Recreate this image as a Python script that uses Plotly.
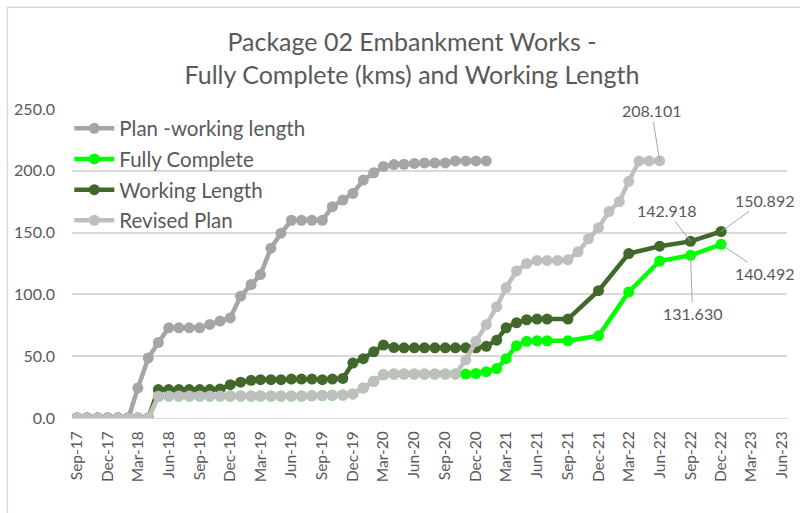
import plotly.graph_objects as go

# ---------------- data ----------------
months_rev = [
    "2017-09", "2017-10", "2017-11", "2017-12", "2018-01", "2018-02", "2018-03", "2018-04",
    "2018-05", "2018-06", "2018-07", "2018-08", "2018-09", "2018-10", "2018-11", "2018-12",
    "2019-01", "2019-02", "2019-03", "2019-04", "2019-05", "2019-06", "2019-07", "2019-08",
    "2019-09", "2019-10", "2019-11", "2019-12", "2020-01", "2020-02", "2020-03", "2020-04",
    "2020-05", "2020-06", "2020-07", "2020-08", "2020-09", "2020-10", "2020-11", "2020-12",
    "2021-01", "2021-02", "2021-03", "2021-04", "2021-05", "2021-06", "2021-07", "2021-08",
    "2021-09", "2021-10", "2021-11", "2021-12", "2022-01", "2022-02", "2022-03", "2022-04",
    "2022-05", "2022-06",
]
revised_plan = [
    0, 0, 0, 0, 0, 0, 0, 0,
    17.6, 17.8, 17.8, 17.8, 17.8, 17.8, 17.8, 17.8,
    17.8, 17.8, 17.8, 17.8, 17.8, 17.8, 17.8, 18.0,
    18.2, 18.4, 18.6, 19.5, 24.3, 29.7, 35.0, 35.5,
    35.5, 35.5, 35.5, 35.5, 35.5, 35.5, 47.0, 62.0,
    75.5, 90.0, 105.5, 119.0, 125.0, 127.5, 127.5, 127.5,
    128.0, 134.5, 145.0, 154.0, 167.0, 175.0, 191.5, 208.0,
    208.0, 208.101,
]

months_plan = months_rev[:41]
plan_working = [
    0, 0, 0, 0, 0, 0, 24.3, 48.6,
    61.0, 73.0, 73.0, 73.0, 73.0, 75.7, 78.4, 81.0,
    98.6, 108.0, 116.0, 137.4, 149.5, 160.0, 160.0, 160.0,
    160.0, 171.0, 176.3, 181.7, 192.5, 198.4, 203.5, 205.0,
    205.3, 206.0, 206.4, 206.4, 206.4, 208.0, 208.0, 208.0,
    208.0,
]

months_actual = months_rev[:47] + ["2021-09", "2021-12", "2022-03", "2022-06", "2022-09", "2022-12"]
fully_complete = revised_plan[:38] + [
    35.5, 36.0, 37.5, 40.0, 48.0, 58.5, 62.0, 62.5, 62.5,
    62.5, 66.5, 102.0, 127.0, 131.630, 140.492,
]
working_length = [
    0, 0, 0, 0, 0, 0, 0, 0,
    23.0, 23.0, 23.0, 23.0, 23.0, 23.0, 23.5, 27.0,
    29.0, 30.5, 31.0, 31.0, 31.0, 31.5, 31.5, 31.5,
    31.0, 31.5, 32.0, 44.5, 48.0, 53.5, 59.0, 57.0,
    56.8, 56.8, 56.8, 56.8, 56.8, 56.8, 56.8, 56.8,
    58.0, 63.0, 73.0, 77.0, 79.5, 80.0, 80.0,
    80.0, 103.0, 133.0, 139.0, 142.918, 150.892,
]

labels = [
    # (series key, index, dx, dy)
    ("rev", -1, -8, -50),
    ("wl", -2, -24, -31),
    ("wl", -1, 43, -31),
    ("fc", -1, 43, 29),
    ("fc", -2, 2, 58),
]

FONT = "Lato, 'Open Sans', sans-serif"
TXT = "#595959"

fig = go.Figure()

def add(name, x, y, color):
    fig.add_trace(go.Scatter(
        x=x, y=y, name=name, mode="lines+markers", legendgroup=name,
        line=dict(color=color, width=4.5),
        marker=dict(color=color, size=11),
    ))

add("Plan -working length", months_plan, plan_working, "#A5A5A5")
add("Fully Complete", months_actual, fully_complete, "#00FF00")
add("Working Length", months_actual, working_length, "#43682B")
add("Revised Plan", months_rev, revised_plan, "#BFBFBF")

series = {
    "rev": (months_rev, revised_plan),
    "wl": (months_actual, working_length),
    "fc": (months_actual, fully_complete),
}
for key, idx, dx, dy in labels:
    xs, ys = series[key]
    fig.add_annotation(
        x=xs[idx], y=ys[idx], text=f"{ys[idx]:.3f}",
        showarrow=True, arrowhead=0, arrowwidth=1, arrowcolor="#A6A6A6",
        ax=dx, ay=dy, font=dict(family=FONT, size=16, color=TXT),
    )

L, R, T, B = 71.7, 787.5, 108.5, 418.3
pw, ph = R - L, B - T
def px(xp):
    return (xp - L) / pw
def py(yp):
    return (B - yp) / ph

fig.add_shape(type="rect", xref="paper", yref="paper",
              x0=px(7), x1=px(810), y0=py(6.5), y1=py(530),
              line=dict(color="#D9D9D9", width=1.5), layer="below")

fig.update_layout(
    width=800, height=513,
    margin=dict(l=L, r=800 - R, t=T, b=513 - B, pad=0, autoexpand=False),
    paper_bgcolor="white", plot_bgcolor="white",
    title=dict(
        text="Package 02 Embankment Works -<br>Fully Complete (kms) and Working Length",
        x=0.515, xanchor="center", y=1 - 51 / 513, yanchor="middle",
        font=dict(family=FONT, size=25, color=TXT), automargin=False,
    ),
    font=dict(family=FONT, color=TXT),
    legend=dict(
        x=px(69), y=py(108), xanchor="left", yanchor="top",
        bgcolor="rgba(0,0,0,0)", font=dict(family=FONT, size=20.5, color=TXT),
        tracegroupgap=1, itemwidth=40,
    ),
    showlegend=True,
)
fig.update_xaxes(
    type="date", range=["2017-08-17", "2023-06-15"], automargin=False,
    tick0="2017-09-01", dtick="M3", tickformat="%b-%y", tickangle=-90,
    tickfont=dict(family=FONT, size=15.5, color=TXT),
    showgrid=False, zeroline=False, showline=True, linecolor="#D9D9D9", linewidth=1,
    ticks="", ticklabelstandoff=6,
)
fig.update_yaxes(
    range=[0, 250], dtick=50, tickformat=".1f", automargin=False,
    tickfont=dict(family=FONT, size=16, color=TXT),
    showgrid=True, gridcolor="#D9D9D9", gridwidth=1.5, zeroline=False,
    showline=False, ticks="", ticklabelstandoff=16,
)

fig.write_html("out.html", config={"displayModeBar": False},
               post_script="document.body.style.margin='0px';")
